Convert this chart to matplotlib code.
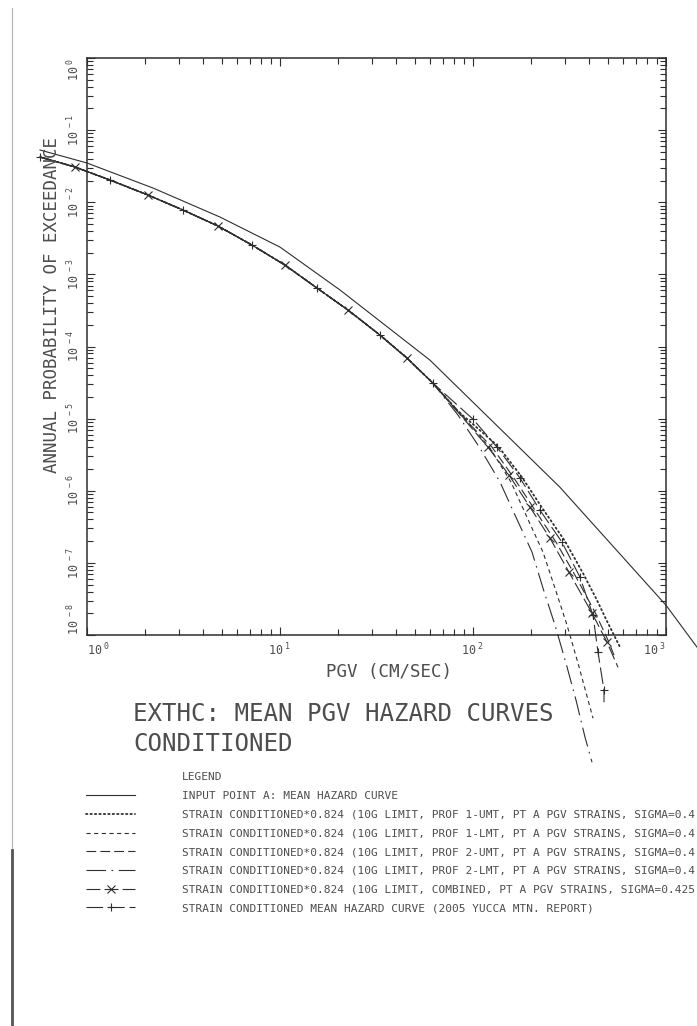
import numpy as np
import matplotlib
matplotlib.use("Agg")
import matplotlib.pyplot as plt
from matplotlib.lines import Line2D
from matplotlib.ticker import LogLocator, NullFormatter

plt.rcParams["font.family"] = ["DejaVu Sans Mono", "DejaVu Sans"]
plt.rcParams["lines.scale_dashes"] = False

# Input point A: mean hazard curve
pgv_input = [0.571, 1.0, 2.20, 4.89, 10.0, 20.5, 59.8, 282.0, 1000.0, 1448.0]
prob_input = [0.0530, 0.0350, 0.01573, 0.00623, 0.00239, 6.05e-4,
              6.48e-5, 1.12e-6, 2.59e-8, 6.78e-9]

# low PGV part shared by all strain conditioned curves
pgv_common = [0.571, 0.867, 1.316, 2.071, 3.144, 4.772, 7.161, 10.61, 15.55,
              22.51, 32.97, 45.50, 62.04]
prob_common = [0.04236, 0.03078, 0.02032, 0.01259, 0.00780, 0.00468, 0.00255,
               0.001346, 6.46e-4, 3.20e-4, 1.44e-4, 6.90e-5, 3.10e-5]

# high PGV tails
pgv_1umt = [83.6, 134.8, 179.4, 230.5, 299.7, 371.5, 438.9, 483.1, 531.4, 577.8]
prob_1umt = [1.27e-5, 4.16e-6, 1.54e-6, 5.56e-7, 2.00e-7, 7.19e-8, 3.04e-8,
             1.77e-8, 1.06e-8, 6.78e-9]

pgv_1lmt = [87.7, 122.5, 157.4, 190.4, 230.5, 266.0, 307.0, 350.0, 394.6, 418.6]
prob_1lmt = [1.12e-5, 3.90e-6, 1.32e-6, 4.30e-7, 1.41e-7, 4.46e-8, 1.37e-8,
             4.07e-9, 1.25e-9, 7.02e-10]

pgv_2umt = [83.6, 125.5, 163.1, 209.6, 269.2, 337.7, 428.6, 500.6, 537.8]
prob_2umt = [1.23e-5, 4.02e-6, 1.50e-6, 5.38e-7, 1.94e-7, 6.75e-8, 2.07e-8,
             8.47e-9, 5.25e-9]

pgv_2lmt = [83.6, 108.7, 138.0, 167.0, 202.2, 230.5, 266.0, 303.3, 341.8, 380.5, 413.7]
prob_2lmt = [1.12e-5, 3.90e-6, 1.32e-6, 4.30e-7, 1.41e-7, 4.46e-8, 1.37e-8,
             4.07e-9, 1.25e-9, 3.83e-10, 1.72e-10]

pgv_comb = [83.6, 119.6, 153.7, 197.4, 250.6, 314.3, 413.7, 494.8, 563.9]
prob_comb = [1.23e-5, 4.02e-6, 1.65e-6, 5.92e-7, 2.20e-7, 7.43e-8, 2.01e-8,
             7.94e-9, 3.57e-9]

pgv_yucca = [100.0, 133.1, 175.2, 222.3, 289.0, 358.3, 418.6, 444.4, 477.2, 477.2]
prob_yucca = [9.84e-6, 4.02e-6, 1.50e-6, 5.38e-7, 1.94e-7, 6.34e-8, 1.88e-8,
              5.77e-9, 1.71e-9, 1.17e-9]

# legend text as far as it is visible on the sheet
labels = [
    "INPUT POINT A: MEAN HAZARD CURVE",
    "STRAIN CONDITIONED*0.824 (10G LIMIT, PROF 1-UMT, PT A PGV STRAINS, SIGMA=0.4",
    "STRAIN CONDITIONED*0.824 (10G LIMIT, PROF 1-LMT, PT A PGV STRAINS, SIGMA=0.4",
    "STRAIN CONDITIONED*0.824 (10G LIMIT, PROF 2-UMT, PT A PGV STRAINS, SIGMA=0.4",
    "STRAIN CONDITIONED*0.824 (10G LIMIT, PROF 2-LMT, PT A PGV STRAINS, SIGMA=0.4",
    "STRAIN CONDITIONED*0.824 (10G LIMIT, COMBINED, PT A PGV STRAINS, SIGMA=0.425",
    "STRAIN CONDITIONED MEAN HAZARD CURVE (2005 YUCCA MTN. REPORT)",
]

ink = "#2e2e2e"
txt = "#4d4d4d"

fig = plt.figure(figsize=(6.97, 10.26), dpi=100)
ax = fig.add_axes([87 / 697, 1 - 635 / 1026, 579 / 697, 577 / 1026])

n = len(pgv_common)
def full(tail_x, tail_y):
    return np.concatenate([pgv_common, tail_x]), np.concatenate([prob_common, tail_y])

kw = dict(color=ink, lw=0.8, clip_on=False)
h = []
h += ax.plot(pgv_input, prob_input, "-", **kw)
x, y = full(pgv_1umt, prob_1umt)
h += ax.plot(x, y, linestyle=(0, (1.0, 2.2)), dash_capstyle="round", color=ink, lw=1.3, clip_on=False)
x, y = full(pgv_1lmt, prob_1lmt)
h += ax.plot(x, y, linestyle=(0, (3.0, 2.5)), **kw)
x, y = full(pgv_2umt, prob_2umt)
h += ax.plot(x, y, linestyle=(0, (7.0, 3.0)), **kw)
x, y = full(pgv_2lmt, prob_2lmt)
h += ax.plot(x, y, linestyle=(0, (14.0, 4.0, 1.2, 4.0)), **kw)
x, y = full(pgv_comb, prob_comb)
mk = list(range(1, n, 2)) + list(range(n + 1, len(x) - 1))
h += ax.plot(x, y, linestyle=(0, (10.0, 3.0)), marker="x", ms=6, mew=0.8,
             markevery=mk, **kw)
x, y = full(pgv_yucca, prob_yucca)
mk = list(range(0, n, 2)) + list(range(n, len(x) - 1))
h += ax.plot(x, y, linestyle=(0, (12.0, 3.5)), marker="+", ms=6, mew=0.8,
             markevery=mk, **kw)

ax.set_xscale("log")
ax.set_yscale("log")
ax.set_xlim(1, 1000)
ax.set_ylim(1e-8, 1)

for s in ax.spines.values():
    s.set_linewidth(1.1)
    s.set_color(ink)

xt = [1, 10, 100, 1000]
yt = [10.0 ** e for e in range(-8, 1)]
ax.set_xticks(xt, [r"$\mathregular{10^{\ %d}}$" % e for e in range(0, 4)])
ax.set_yticks(yt, [r"$\mathregular{10^{\ %d}}$" % e for e in range(-8, 1)])
ax.xaxis.set_minor_locator(LogLocator(base=10, subs=np.arange(2, 10)))
ax.yaxis.set_minor_locator(LogLocator(base=10, subs=np.arange(2, 10), numticks=20))
ax.xaxis.set_minor_formatter(NullFormatter())
ax.yaxis.set_minor_formatter(NullFormatter())
ax.tick_params(which="both", direction="in", top=True, right=True,
               color=ink, width=0.8, labelsize=8.5, labelcolor=txt, pad=5)
ax.tick_params(which="major", length=6)
ax.tick_params(which="minor", length=4)
ax.tick_params(axis="y", labelrotation=90, pad=3.5)

for t in ax.get_yticklabels():
    t.set_va("center")
ax.get_yticklabels()[0].set_va("bottom")
ax.get_yticklabels()[-1].set_va("top")
ax.get_xticklabels()[0].set_ha("left")
ax.get_xticklabels()[-1].set_ha("right")

fig.text(389 / 697, 1 - 672 / 1026, "PGV (CM/SEC)", ha="center", va="center",
         fontsize=12.6, color=txt)
fig.text(52 / 697, 1 - 305 / 1026, "ANNUAL PROBABILITY OF EXCEEDANCE",
         rotation=90, ha="center", va="center", fontsize=12.6, color=txt)

fig.text(133 / 697, 1 - 714 / 1026, "EXTHC: MEAN PGV HAZARD CURVES",
         ha="left", va="center", fontsize=17.4, color=txt)
fig.text(133 / 697, 1 - 744 / 1026, "CONDITIONED",
         ha="left", va="center", fontsize=17.4, color=txt)

fig.text(182 / 697, 1 - 777 / 1026, "LEGEND", ha="left", va="center",
         fontsize=8, color=txt)
leg = fig.legend(h, labels, loc="upper left",
                 bbox_to_anchor=(86 / 697, 1 - 791 / 1026),
                 bbox_transform=fig.transFigure, frameon=False, fontsize=8.05,
                 borderpad=0, borderaxespad=0, handlelength=4.4,
                 handletextpad=4.15, labelspacing=0.78, numpoints=1)
for t in leg.get_texts():
    t.set_color(txt)

# page edge of the scanned sheet
fig.add_artist(Line2D([12 / 697, 12 / 697], [0, 1 - 8 / 1026],
                      transform=fig.transFigure, color="#b5b5b5", lw=0.8))
fig.add_artist(Line2D([12 / 697, 12 / 697], [0, 1 - 850 / 1026],
                      transform=fig.transFigure, color="#555555", lw=2.0))

fig.savefig("out.png", dpi=100, facecolor="white")
